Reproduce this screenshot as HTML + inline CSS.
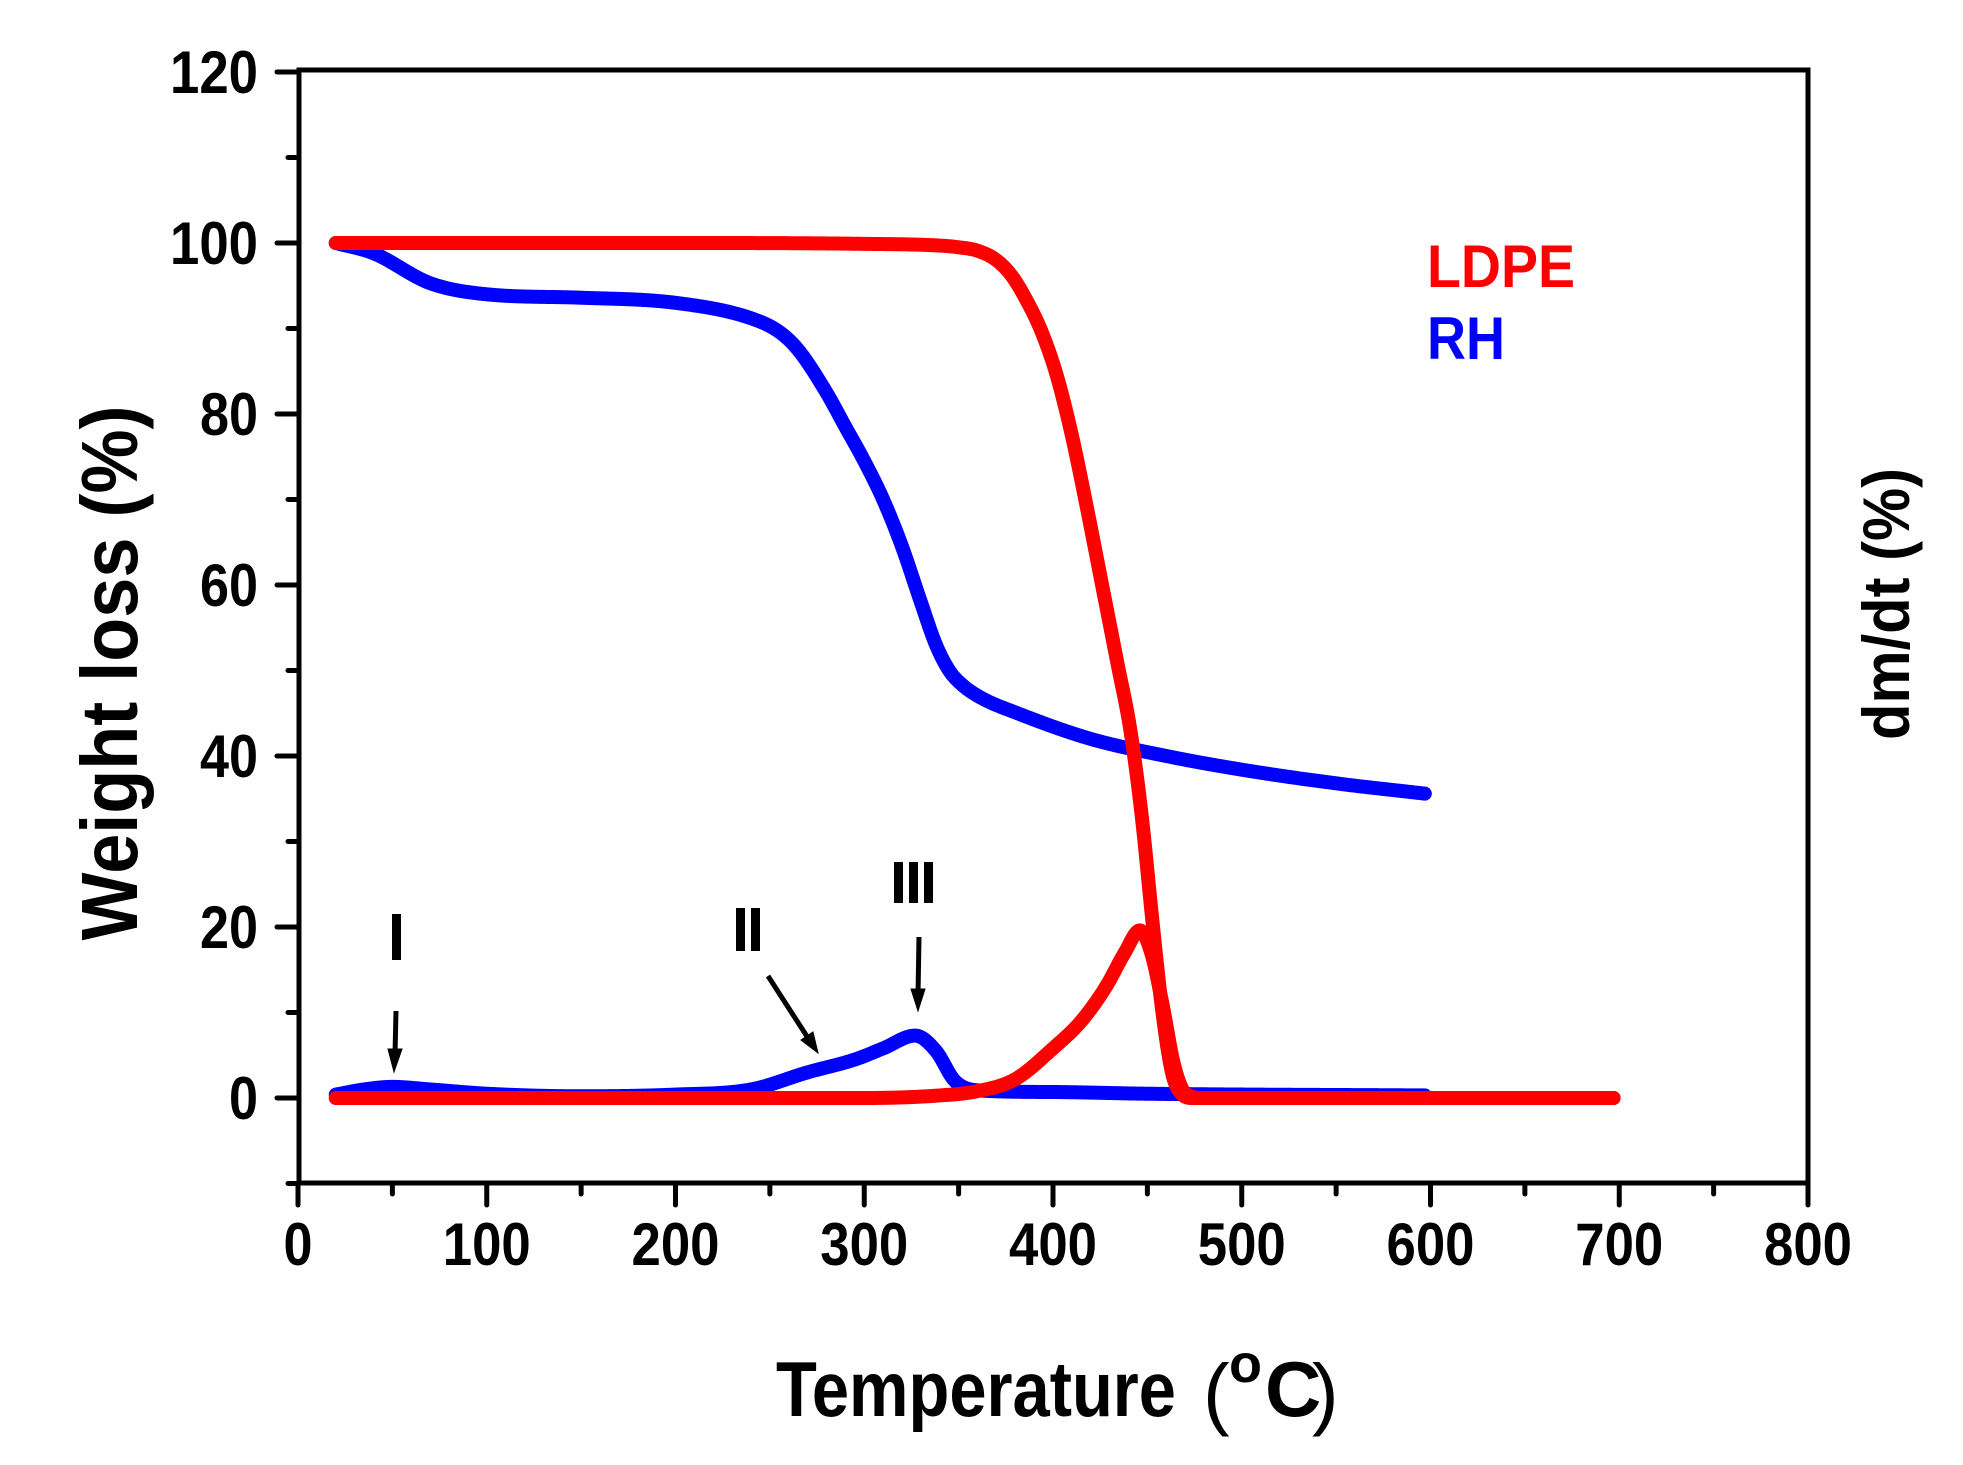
<!DOCTYPE html>
<html><head><meta charset="utf-8"><style>
html,body{margin:0;padding:0;background:#fff;}
svg{display:block;}
text{font-family:"Liberation Sans",Arial,sans-serif;font-weight:bold;}
</style></head><body>
<svg id="s" width="1963" height="1465" viewBox="0 0 1963 1465" xmlns="http://www.w3.org/2000/svg">
<rect width="1963" height="1465" fill="#fff"/>
<g id="curves" fill="none" stroke-linecap="round" stroke-linejoin="round" stroke-width="14"></g>
<g stroke="#000" stroke-width="5" fill="none" stroke-linecap="square">
<rect x="299" y="70" width="1509" height="1113"/>
</g>
<g id="ticks" stroke="#000" stroke-width="5" stroke-linecap="round"></g>
<g font-size="60" text-anchor="end" id="ylab"></g>
<g font-size="60" text-anchor="middle" id="xlab"></g>
<text x="137" y="673" font-size="80" text-anchor="middle" transform="rotate(-90 137 673)" textLength="535" lengthAdjust="spacingAndGlyphs">Weight  loss (%)</text>
<text x="1909" y="604" font-size="66" text-anchor="middle" transform="rotate(-90 1909 604)" textLength="272" lengthAdjust="spacingAndGlyphs">dm/dt (%)</text>
<text x="776" y="1416" font-size="78" textLength="400" lengthAdjust="spacingAndGlyphs">Temperature</text>
<text x="1203" y="1420" font-size="80" style="font-weight:normal">(</text>
<text x="1229" y="1382" font-size="54">o</text>
<text x="1265" y="1416" font-size="78">C</text>
<text x="1312" y="1420" font-size="80" style="font-weight:normal">)</text>
<text x="1427" y="287" font-size="60" fill="#f00" textLength="148" lengthAdjust="spacingAndGlyphs">LDPE</text>
<text x="1427" y="359" font-size="60" fill="#00f" textLength="78" lengthAdjust="spacingAndGlyphs">RH</text>
<rect x="392" y="914" width="9" height="46" fill="#000"/>
<rect x="736" y="908" width="9" height="43" fill="#000"/>
<rect x="751" y="908" width="9" height="43" fill="#000"/>
<rect x="894" y="862" width="9" height="41" fill="#000"/>
<rect x="909" y="862" width="9" height="41" fill="#000"/>
<rect x="924" y="862" width="9" height="41" fill="#000"/>
<g stroke="#000" stroke-width="5" fill="#000">
<line x1="396" y1="1011" x2="395" y2="1055"/>
<polygon points="388,1049 402,1049 394,1072" stroke-width="1"/>
<line x1="768" y1="976" x2="808" y2="1038"/>
<polygon points="801,1040 813,1032 818,1053" stroke-width="1"/>
<line x1="919" y1="937" x2="918" y2="995"/>
<polygon points="911,989 925,989 918,1011" stroke-width="1"/>
</g>
</svg>
<script>
var X=t=>298+1.8875*t, Y=v=>1098-8.55*v;
function mono(d){var n=d.length,xs=d.map(a=>a[0]),ys=d.map(a=>a[1]),dl=[],m=[];
for(var i=0;i<n-1;i++)dl.push((ys[i+1]-ys[i])/(xs[i+1]-xs[i]));
m[0]=dl[0];m[n-1]=dl[n-2];
for(i=1;i<n-1;i++){m[i]=(dl[i-1]*dl[i]<=0)?0:(dl[i-1]+dl[i])/2;}
for(i=0;i<n-1;i++){if(dl[i]==0){m[i]=0;m[i+1]=0;continue;}var a=m[i]/dl[i],b=m[i+1]/dl[i],h=a*a+b*b;if(h>9){var t=3/Math.sqrt(h);m[i]=t*a*dl[i];m[i+1]=t*b*dl[i];}}
var pts=[];for(i=0;i<n-1;i++){var h2=xs[i+1]-xs[i];for(var k=0;k<h2;k+=0.5){var t2=k/h2,t3=t2*t2*t2,tt=t2*t2;
var y=(2*t3-3*tt+1)*ys[i]+(t3-2*tt+t2)*h2*m[i]+(-2*t3+3*tt)*ys[i+1]+(t3-tt)*h2*m[i+1];pts.push(X(xs[i]+k).toFixed(2)+","+Y(y).toFixed(2));}}
pts.push(X(xs[n-1])+","+Y(ys[n-1]));return pts.join(" ");}
var rhTG=[[20,100],[40,98.8],[70,95.3],[100,94],[150,93.6],[200,93],[240,91.2],[255,89.6],[265,87.5],[280,82.5],[290,78.5],[300,74.5],[310,70],[320,64.5],[330,58],[338,53],[345,50],[352,48.3],[362,46.8],[380,45.1],[420,42],[460,40],[500,38.4],[550,36.8],[597,35.6]];
var ldTG=[[20,100],[200,100],[300,99.9],[340,99.7],[350,99.5],[360,99.1],[370,98],[378,96.2],[386,93.3],[394,89.6],[402,84.5],[410,77.5],[418,69],[426,60],[434,51],[441,43],[447,33],[453,20],[458,10],[463,3],[468,0.5],[474,0],[697,0]];
var rhD=[[20,0.4],[35,1],[50,1.3],[70,1],[100,0.5],[150,0.2],[200,0.4],[240,1],[270,3],[295,4.5],[310,5.8],[327,7.3],[338,5.5],[348,2],[360,0.9],[400,0.7],[450,0.5],[597,0.3]];
var ldD=[[20,0],[300,0],[340,0.3],[360,0.8],[380,2.2],[400,5.8],[415,9],[428,13],[438,17],[446,19.6],[452,17],[458,11],[464,4],[470,0.6],[480,0],[697,0]];
var g=document.getElementById("curves");
[[rhTG,"#00f"],[rhD,"#00f"],[ldD,"#f00"],[ldTG,"#f00"]].forEach(function(c){
var e=document.createElementNS("http://www.w3.org/2000/svg","polyline");e.setAttribute("points",mono(c[0]));e.setAttribute("stroke",c[1]);g.appendChild(e);});
var tk=document.getElementById("ticks"),yl=document.getElementById("ylab"),xl=document.getElementById("xlab");
function ln(a,b,c,d){var e=document.createElementNS("http://www.w3.org/2000/svg","line");e.setAttribute("x1",a);e.setAttribute("y1",b);e.setAttribute("x2",c);e.setAttribute("y2",d);tk.appendChild(e);}
function tx(p,x,y,s,w){var e=document.createElementNS("http://www.w3.org/2000/svg","text");e.setAttribute("x",x);e.setAttribute("y",y);e.textContent=s;e.setAttribute("textLength",w);e.setAttribute("lengthAdjust","spacingAndGlyphs");p.appendChild(e);}
for(var v=-10;v<=120;v+=10){var y=Y(v);if(v%20==0){ln(277,y,299,y);tx(yl,258,y+21,""+v,v>=100?88:(v==0?29:58));}else ln(288,y,299,y);}
for(var t=0;t<=800;t+=50){var x=X(t);if(t%100==0){ln(x,1183,x,1205);tx(xl,x,1265,""+t,t==0?29:88);}else ln(x,1183,x,1194);}
</script>
</body></html>
